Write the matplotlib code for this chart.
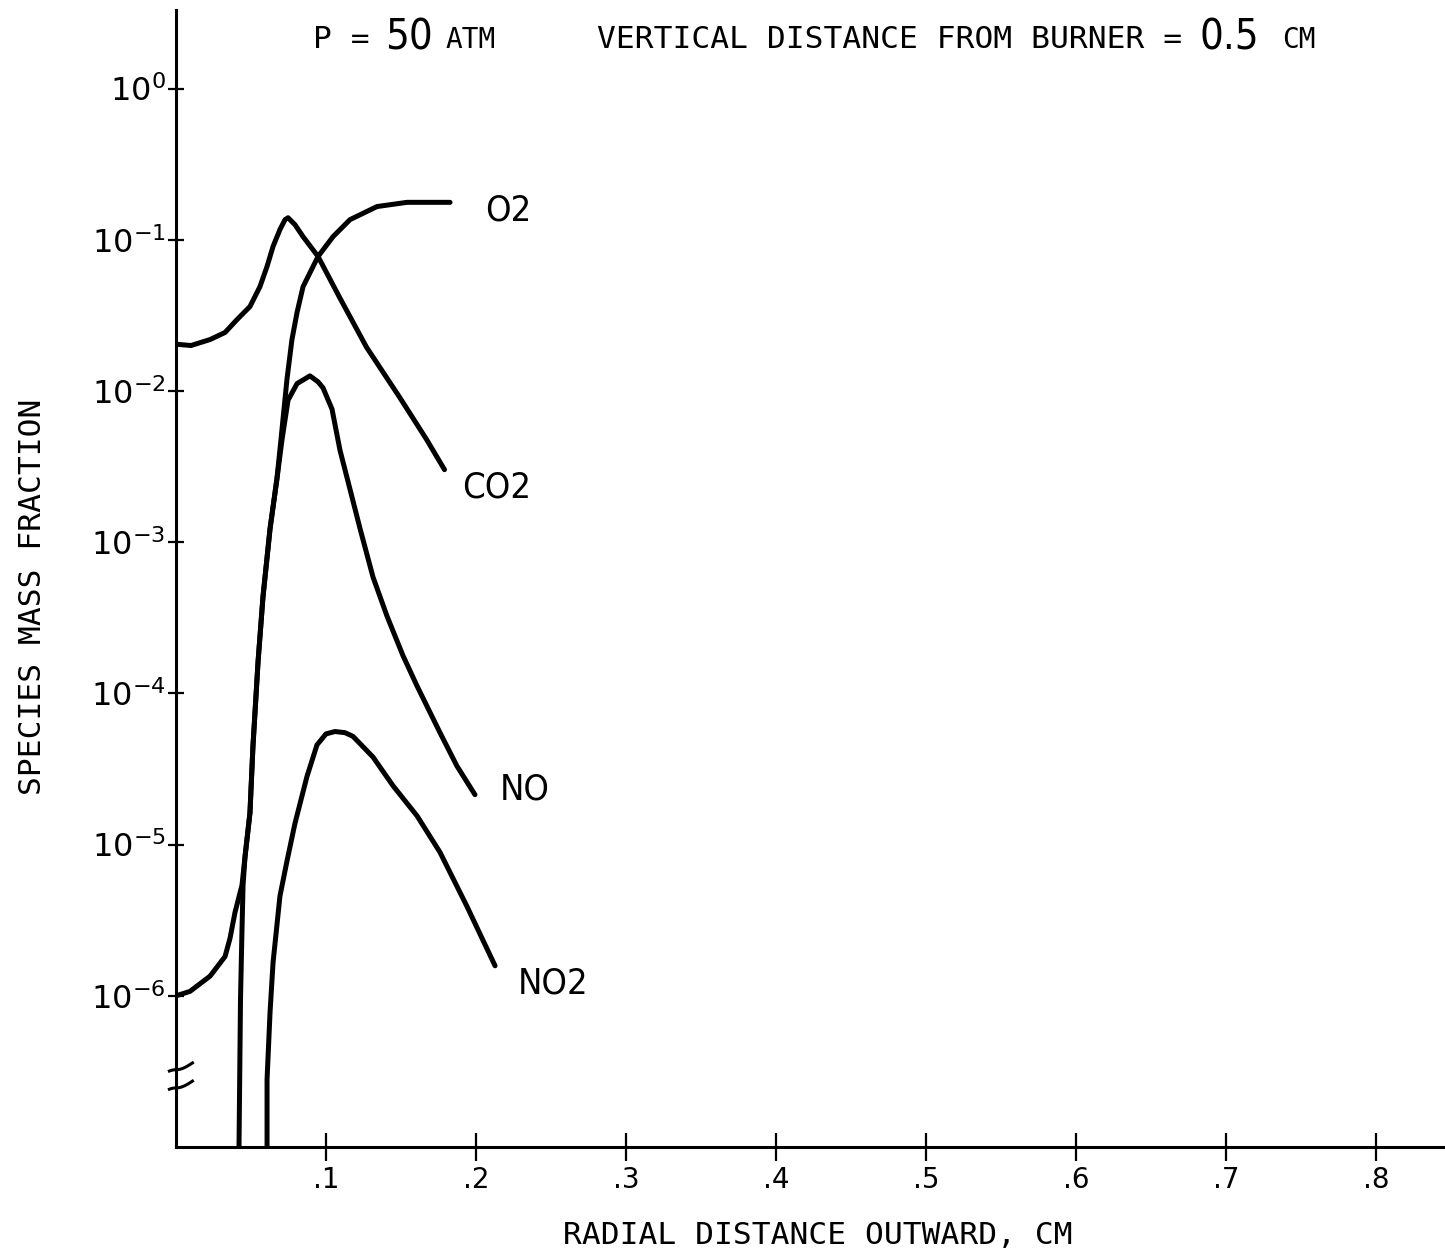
import matplotlib.pyplot as plt
import numpy as np

# radial distance (cm) and species mass fraction
co2_x = [0.0, 0.010, 0.0227, 0.0327, 0.0407, 0.0493, 0.056, 0.0607, 0.0647, 0.0693, 0.0727,
         0.0747, 0.0793, 0.0847, 0.0947, 0.109, 0.127, 0.149, 0.167, 0.179]
co2_y = [2.04e-2, 2.00e-2, 2.19e-2, 2.44e-2, 2.97e-2, 3.62e-2, 4.91e-2, 6.67e-2, 9.04e-2,
         1.17e-1, 1.36e-1, 1.40e-1, 1.26e-1, 1.05e-1, 7.76e-2, 4.17e-2, 1.95e-2, 9.12e-3,
         4.79e-3, 3.02e-3]

o2_x = [0.042, 0.043, 0.044, 0.0447, 0.046, 0.0493, 0.0513, 0.0547, 0.058, 0.0627, 0.0673,
        0.070, 0.074, 0.0773, 0.0807, 0.0847, 0.0947, 0.1047, 0.116, 0.134, 0.154, 0.1827]
o2_y = [1.0e-7, 9.5e-7, 2.75e-6, 5.4e-6, 8.3e-6, 1.62e-5, 4.47e-5, 1.62e-4, 4.37e-4, 1.23e-3,
        2.63e-3, 4.79e-3, 1.20e-2, 2.19e-2, 3.31e-2, 4.90e-2, 7.76e-2, 1.05e-1, 1.36e-1,
        1.66e-1, 1.77e-1, 1.77e-1]

no_x = [0.0, 0.0093, 0.0227, 0.0327, 0.036, 0.0393, 0.044, 0.046, 0.0493, 0.0513, 0.0547,
        0.058, 0.0627, 0.0673, 0.0707, 0.0747, 0.0807, 0.0893, 0.0947, 0.098, 0.104, 0.1093,
        0.116, 0.1227, 0.1313, 0.1407, 0.1513, 0.1607, 0.176, 0.1873, 0.1993]
no_y = [1.0e-6, 1.07e-6, 1.35e-6, 1.82e-6, 2.40e-6, 3.55e-6, 5.4e-6, 8.3e-6, 1.62e-5, 4.47e-5,
        1.62e-4, 4.37e-4, 1.23e-3, 2.63e-3, 4.79e-3, 8.7e-3, 1.12e-2, 1.26e-2, 1.15e-2, 1.05e-2,
        7.6e-3, 4.07e-3, 2.24e-3, 1.23e-3, 5.9e-4, 3.24e-4, 1.78e-4, 1.12e-4, 5.5e-5, 3.31e-5,
        2.14e-5]

no2_x = [0.0607, 0.0607, 0.0627, 0.0647, 0.0693, 0.074, 0.0793, 0.0873, 0.094, 0.100, 0.106,
         0.1127, 0.118, 0.1313, 0.1447, 0.1607, 0.176, 0.194, 0.2127]
no2_y = [1.0e-7, 2.8e-7, 7.8e-7, 1.66e-6, 4.57e-6, 7.8e-6, 1.38e-5, 2.82e-5, 4.57e-5, 5.4e-5,
         5.6e-5, 5.5e-5, 5.2e-5, 3.8e-5, 2.45e-5, 1.55e-5, 8.9e-6, 3.9e-6, 1.58e-6]

labels = ['O2', 'CO2', 'NO', 'NO2']
label_pos = [(0.206, 1.56e-1), (0.191, 2.3e-3), (0.216, 2.3e-5), (0.228, 1.2e-6)]

x_ticks = [0.1, 0.2, 0.3, 0.4, 0.5, 0.6, 0.7, 0.8]
x_ticklabels = ['.1', '.2', '.3', '.4', '.5', '.6', '.7', '.8']
y_ticks = [1e-6, 1e-5, 1e-4, 1e-3, 1e-2, 1e-1, 1e0]
y_ticklabels = ['$10^{-6}$', '$10^{-5}$', '$10^{-4}$', '$10^{-3}$', '$10^{-2}$', '$10^{-1}$', '$10^{0}$']

mono = 'DejaVu Sans Mono'
narrow = dict(family='DejaVu Sans', fontstretch='condensed')

fig = plt.figure(figsize=(14.45, 12.51), dpi=100)
ax = fig.add_axes([0.1218, 0.0831, 0.8782, 0.9089])

for xs, ys in [(co2_x, co2_y), (o2_x, o2_y), (no_x, no_y), (no2_x, no2_y)]:
    ax.plot(xs, ys, color='black', lw=3.6, solid_capstyle='round', solid_joinstyle='round')

for lab, (lx, ly) in zip(labels, label_pos):
    ax.text(lx, ly, lab, fontsize=26, va='center', ha='left', **narrow)

ax.set_yscale('log')
ax.set_xlim(0, 0.846)
ax.set_ylim(1e-7, 10 ** 0.52)
ax.set_xticks(x_ticks)
ax.set_xticklabels(x_ticklabels, fontsize=20)
ax.set_yticks(y_ticks)
ax.set_yticklabels(y_ticklabels, fontsize=23)
ax.minorticks_off()
ax.tick_params(axis='x', direction='inout', length=20, width=1.6, pad=4)
ax.tick_params(axis='y', direction='inout', length=11, width=1.6, pad=2)

ax.spines['top'].set_visible(False)
ax.spines['right'].set_visible(False)
ax.spines['left'].set_linewidth(2.2)
ax.spines['bottom'].set_linewidth(2.2)

# axis break marks: two small arcs across the y axis
t = np.linspace(-0.4, 1, 30)
for yb in [0.0680, 0.0520]:
    ax.plot(t * 0.013, yb + 0.006 * (1 - np.cos(np.pi * t / 2)) * np.sign(t),
            transform=ax.transAxes, color='black', lw=2.2, clip_on=False)

# title pieces
ty = 1 - 40 / 1251
fig.text(313 / 1445, ty, 'P =', fontsize=22.5, family=mono, va='center', ha='left')
fig.text(385 / 1445, ty + 0.002, '50', fontsize=30, va='center', ha='left', **narrow)
fig.text(445 / 1445, ty, 'ATM', fontsize=20, family=mono, va='center', ha='left')
fig.text(597 / 1445, ty, 'VERTICAL DISTANCE FROM BURNER =', fontsize=22.5, family=mono,
         va='center', ha='left')
fig.text(1200 / 1445, ty + 0.002, '0.5', fontsize=30, va='center', ha='left', **narrow)
fig.text(1282 / 1445, ty, 'CM', fontsize=20, family=mono, va='center', ha='left')

fig.text(818 / 1445, 1 - 1236 / 1251, 'RADIAL DISTANCE OUTWARD, CM', fontsize=22.5,
         family=mono, ha='center', va='center')
fig.text(33 / 1445, 1 - 597 / 1251, 'SPECIES MASS FRACTION', fontsize=22.5, family=mono,
         rotation=90, ha='center', va='center')

fig.savefig('out.png', dpi=100, facecolor='white')
